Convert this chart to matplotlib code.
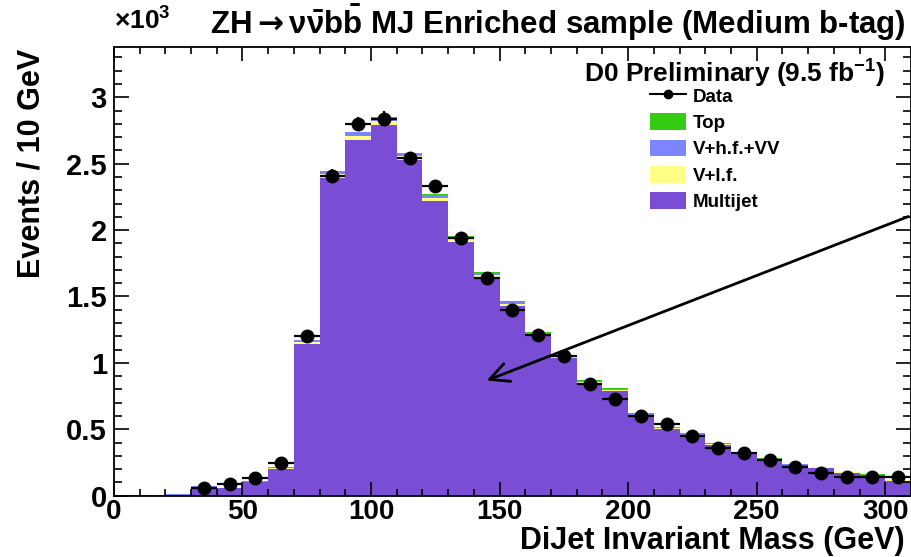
import numpy as np
import matplotlib
matplotlib.use("Agg")
import matplotlib.pyplot as plt
from matplotlib.patches import Patch
from matplotlib.lines import Line2D
from matplotlib.ticker import MultipleLocator

plt.rcParams['font.family'] = ['Liberation Sans', 'DejaVu Sans']
plt.rcParams['font.weight'] = 'bold'
plt.rcParams['mathtext.fontset'] = 'custom'
plt.rcParams['mathtext.rm'] = 'Liberation Sans:bold'
plt.rcParams['mathtext.it'] = 'Liberation Sans:bold'
plt.rcParams['mathtext.bf'] = 'Liberation Sans:bold'
plt.rcParams['mathtext.sf'] = 'DejaVu Sans'
plt.rcParams['mathtext.fallback'] = 'stixsans'

# dijet mass bins, 10 GeV wide, values in units of 10^3 events
edges = np.arange(0, 320, 10)
multijet = [0.003, 0.003, 0.008, 0.065, 0.055, 0.10, 0.20, 1.14, 2.39, 2.68, 2.79,
            2.53, 2.22, 1.91, 1.645, 1.43, 1.205, 1.04, 0.85, 0.79, 0.605, 0.505,
            0.455, 0.385, 0.318, 0.27, 0.23, 0.21, 0.172, 0.153, 0.114]
vlf = [0.001, 0.001, 0.001, 0.003, 0.003, 0.005, 0.010, 0.020, 0.030, 0.030, 0.030,
       0.025, 0.025, 0.020, 0.017, 0.015, 0.012, 0.010, 0.009, 0.008, 0.006, 0.006,
       0.005, 0.005, 0.004, 0.004, 0.004, 0.003, 0.003, 0.003, 0.002]
vhf = [0.001, 0.001, 0.001, 0.002, 0.002, 0.004, 0.008, 0.012, 0.020, 0.025, 0.025,
       0.022, 0.020, 0.016, 0.014, 0.012, 0.010, 0.008, 0.007, 0.007, 0.006, 0.005,
       0.005, 0.005, 0.004, 0.004, 0.003, 0.003, 0.003, 0.002, 0.002]
top = [0.0, 0.0, 0.0, 0.001, 0.001, 0.001, 0.002, 0.003, 0.004, 0.005, 0.006,
       0.006, 0.006, 0.006, 0.006, 0.006, 0.006, 0.005, 0.005, 0.005, 0.005, 0.004,
       0.004, 0.004, 0.004, 0.003, 0.003, 0.003, 0.003, 0.002, 0.002]
data = [np.nan, np.nan, np.nan, 0.06, 0.09, 0.13, 0.25, 1.20, 2.41, 2.80, 2.84,
        2.54, 2.33, 1.94, 1.64, 1.40, 1.21, 1.05, 0.84, 0.73, 0.60, 0.54,
        0.45, 0.36, 0.32, 0.27, 0.22, 0.17, 0.14, 0.14, 0.14]

samples = [("Multijet", multijet, "#7a4ed4"),
           ("V+l.f.", vlf, "#ffff88"),
           ("V+h.f.+VV", vhf, "#7b85ff"),
           ("Top", top, "#33cc11")]

fig = plt.figure(figsize=(9.11, 5.57), dpi=100)
ax = fig.add_axes([0.125, 0.11, 0.875, 0.806])

bottom = np.zeros(len(multijet))
for name, vals, col in samples:
    ax.stairs(bottom + np.array(vals), edges, baseline=bottom.copy(), fill=True,
              color=col, lw=0)
    bottom = bottom + np.array(vals)

centers = edges[:-1] + 5
d = np.array(data)
derr = np.sqrt(d * 1000) / 1000
ax.errorbar(centers, d, xerr=5, yerr=derr, fmt='o', color='black', ms=9,
            elinewidth=1.6, capsize=0)

ax.set_xlim(0, 310)
ax.set_ylim(0, 3.38)
ax.xaxis.set_major_locator(MultipleLocator(50))
ax.xaxis.set_minor_locator(MultipleLocator(10))
ax.yaxis.set_major_locator(MultipleLocator(0.5))
ax.yaxis.set_minor_locator(MultipleLocator(0.1))
ax.yaxis.set_major_formatter(plt.FuncFormatter(lambda v, p: "%g" % v))
ax.tick_params(which='both', direction='in', top=True, right=True, width=1.2)
ax.tick_params(axis='x', which='major', length=10, pad=2, labelsize=20)
ax.tick_params(axis='x', which='minor', length=5)
ax.tick_params(axis='y', which='major', length=11, pad=5, labelsize=21)
ax.tick_params(axis='y', which='minor', length=6)
for s in ax.spines.values():
    s.set_linewidth(1.3)

ax.set_xlabel("DiJet Invariant Mass (GeV)", fontsize=22, fontweight='bold', loc='right')
ax.xaxis.set_label_coords(0.992, -0.068)
ax.set_ylabel("Events / 10 GeV", fontsize=22, fontweight='bold', loc='top')
ax.yaxis.set_label_coords(-0.085, 0.995)

fig.text(0.125, 0.963, r"$\times$10$^{3}$", fontsize=19, va='center')
fig.text(0.994, 0.960,
         r"ZH$\mathsf{\rightarrow}\nu\bar{\nu}b\bar{b}$ MJ Enriched sample (Medium b-tag)",
         fontsize=22.5, ha='right', va='center')

ax.text(0.968, 0.94, r"D0 Preliminary (9.5 fb$^{-1}$)", transform=ax.transAxes,
        fontsize=19, ha='right', va='center')

handles = [Line2D([], [], color='black', marker='o', ms=6, lw=1.5)]
labels = ["Data"]
for name, vals, col in samples[::-1]:
    handles.append(Patch(facecolor=col, edgecolor='none'))
    labels.append(name)
ax.legend(handles, labels, loc='upper left', bbox_to_anchor=(650 / 911, 1 - 87 / 557),
          bbox_transform=fig.transFigure, frameon=False, fontsize=13.5,
          handlelength=1.9, handleheight=1.0, handletextpad=0.4, labelspacing=0.4,
          borderpad=0, borderaxespad=0)

ax.annotate("", xy=(144, 0.86), xytext=(310, 2.11),
            arrowprops=dict(arrowstyle='->', lw=2.0, color='black', mutation_scale=34),
            annotation_clip=False)

fig.savefig("out.png", dpi=100)
